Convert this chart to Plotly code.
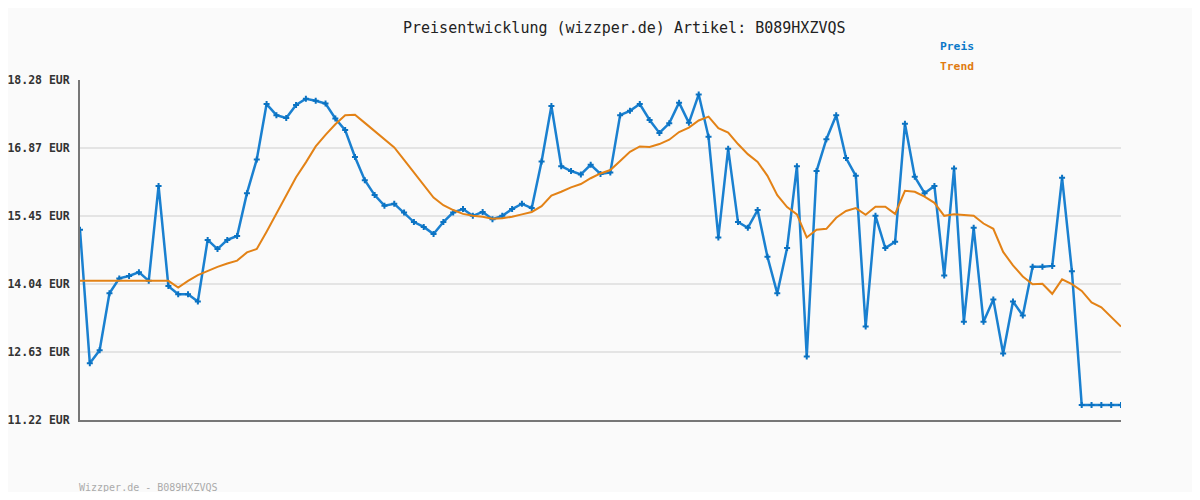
import plotly.graph_objects as go

# price history (107 samples)
preis = [
    15.17, 12.40, 12.67, 13.85, 14.16, 14.21, 14.29, 14.11, 16.08, 14.00,
    13.83, 13.83, 13.68, 14.96, 14.77, 14.96, 15.04, 15.93, 16.63, 17.78,
    17.55, 17.49, 17.76, 17.89, 17.85, 17.79, 17.48, 17.24, 16.68, 16.20,
    15.89, 15.67, 15.71, 15.53, 15.33, 15.23, 15.08, 15.33, 15.53, 15.60,
    15.46, 15.54, 15.39, 15.46, 15.60, 15.71, 15.62, 16.59, 17.74, 16.49,
    16.39, 16.32, 16.52, 16.33, 16.36, 17.55, 17.64, 17.78, 17.45, 17.18,
    17.38, 17.81, 17.39, 17.98, 17.10, 15.01, 16.85, 15.33, 15.21, 15.58,
    14.61, 13.85, 14.79, 16.49, 12.54, 16.39, 17.05, 17.55, 16.66, 16.29,
    13.16, 15.46, 14.79, 14.92, 17.37, 16.27, 15.93, 16.08, 14.22, 16.44,
    13.26, 15.21, 13.26, 13.72, 12.60, 13.68, 13.39, 14.40, 14.40, 14.42,
    16.25, 14.31, 11.53, 11.53, 11.53, 11.53, 11.53,
]

trend = [
    14.11, 14.11, 14.11, 14.11, 14.11, 14.11, 14.11, 14.11, 14.11, 14.11,
    13.97, 14.11, 14.23, 14.32, 14.40, 14.47, 14.53, 14.70, 14.77, 15.13,
    15.50, 15.87, 16.26, 16.57, 16.90, 17.14, 17.36, 17.55, 17.56, 17.39,
    17.22, 17.05, 16.88, 16.62, 16.36, 16.10, 15.84, 15.68, 15.58, 15.50,
    15.46, 15.44, 15.40, 15.41, 15.44, 15.49, 15.54, 15.66, 15.88, 15.96,
    16.05, 16.12, 16.24, 16.34, 16.41, 16.60, 16.79, 16.90, 16.89, 16.95,
    17.04, 17.20, 17.29, 17.44, 17.52, 17.28, 17.19, 16.95, 16.74, 16.58,
    16.29, 15.89, 15.64, 15.49, 15.01, 15.17, 15.19, 15.42, 15.56, 15.62,
    15.48, 15.65, 15.65, 15.50, 15.98, 15.96, 15.86, 15.73, 15.46, 15.49,
    15.48, 15.46, 15.30, 15.19, 14.71, 14.43, 14.20, 14.04, 14.05, 13.84,
    14.14, 14.04, 13.90, 13.66, 13.56, 13.37, 13.16,
]

tick_vals = [11.22, 12.632, 14.044, 15.456, 16.868, 18.28]
tick_text = ['<b>11.22 EUR</b>', '<b>12.63 EUR</b>', '<b>14.04 EUR</b>',
             '<b>15.45 EUR</b>', '<b>16.87 EUR</b>', '<b>18.28 EUR</b>']

x = list(range(len(preis)))
mono = 'DejaVu Sans Mono'

# page body has an 8px margin, so the figure is drawn 8px in from the top-left
OFF = 8
W, H = 1200 - 2 * OFF, 500 - 2 * OFF
L, T = 80 - OFF, 80 - OFF
PW, PH = 1041, 340

fig = go.Figure()
fig.add_trace(go.Scatter(x=x, y=preis, mode='lines+markers', name='Preis',
                         line=dict(color='#1a80d0', width=2.5),
                         marker=dict(symbol='cross', size=5, color='#0a72c2')))
fig.add_trace(go.Scatter(x=x, y=trend, mode='lines', name='Trend',
                         line=dict(color='#e38216', width=2)))

fig.update_layout(
    width=W, height=H, showlegend=False,
    paper_bgcolor='#fafafa', plot_bgcolor='#fafafa',
    margin=dict(l=L, r=W - L - PW, t=T, b=H - T - PH, pad=0, autoexpand=False),
    font=dict(family=mono, color='#333333'),
    xaxis=dict(range=[0, len(preis) - 1], showgrid=False, zeroline=False,
               showticklabels=False, showline=True, linecolor='#777777', linewidth=2,
               automargin=False),
    yaxis=dict(range=[11.22, 18.28], tickvals=tick_vals, ticktext=tick_text,
               showgrid=True, gridcolor='#e4e4e4', gridwidth=2, zeroline=False,
               showline=True, linecolor='#777777', linewidth=2, automargin=False,
               tickfont=dict(family=mono, size=11.5, color='#333333'),
               ticklabelstandoff=6),
)

# text items, positioned by page pixel centre
labels = [
    ('Preisentwicklung (wizzper.de) Artikel: B089HXZVQS', 624, 28, 15, '#222222'),
    ('<b>Preis</b>', 957, 47, 11.3, '#0a78c8'),
    ('<b>Trend</b>', 957, 67, 11.3, '#e07b10'),
    ('Wizzper.de - B089HXZVQS', 148, 487, 10, '#aaaaaa'),
]
for text, px_x, px_y, size, color in labels:
    fig.add_annotation(text=text, x=(px_x - 80) / PW, y=(420 - px_y) / PH,
                       xref='paper', yref='paper', showarrow=False,
                       xanchor='center', yanchor='middle',
                       font=dict(family=mono, size=size, color=color))

fig.write_html("out.html")
